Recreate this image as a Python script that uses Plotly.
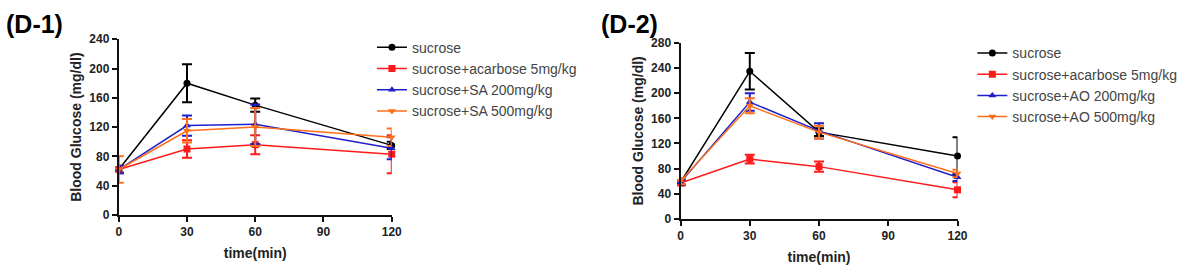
import plotly.graph_objects as go

W, H = 1196, 276

time_min = [0, 30, 60, 120]

series_names_d1 = ["sucrose", "sucrose+acarbose 5mg/kg", "sucrose+SA 200mg/kg", "sucrose+SA 500mg/kg"]
series_names_d2 = ["sucrose", "sucrose+acarbose 5mg/kg", "sucrose+AO 200mg/kg", "sucrose+AO 500mg/kg"]

# D-1 values (mean, error)
d1_sucrose = [62, 180, 150, 95]
d1_sucrose_err = [4, 26, 9, 5]
d1_acarbose = [62, 90, 96, 83]
d1_acarbose_err = [5, 12, 13, 26]
d1_sa200 = [62, 122, 124, 91]
d1_sa200_err = [5, 14, 27, 15]
d1_sa500 = [62, 115, 120, 106]
d1_sa500_err = [18, 16, 26, 12]

# D-2 values (mean, error)
d2_sucrose = [58, 235, 138, 100]
d2_sucrose_err = [4, 29, 6, 30]
d2_acarbose = [57, 95, 83, 46]
d2_acarbose_err = [4, 7, 8, 12]
d2_ao200 = [58, 186, 140, 66]
d2_ao200_err = [4, 14, 12, 6]
d2_ao500 = [60, 180, 138, 72]
d2_ao500_err = [5, 12, 10, 6]

colors = ["#000000", "#ff1a1a", "#1f1fcc", "#ff6f1a"]
symbols = ["circle", "square", "triangle-up", "triangle-down"]

d1_vals = [d1_sucrose, d1_acarbose, d1_sa200, d1_sa500]
d1_errs = [d1_sucrose_err, d1_acarbose_err, d1_sa200_err, d1_sa500_err]
d2_vals = [d2_sucrose, d2_acarbose, d2_ao200, d2_ao500]
d2_errs = [d2_sucrose_err, d2_acarbose_err, d2_ao200_err, d2_ao500_err]

x_ticks = [0, 30, 60, 90, 120]
d1_y_ticks = [0, 40, 80, 120, 160, 200, 240]
d2_y_ticks = [0, 40, 80, 120, 160, 200, 240, 280]

fig = go.Figure()

def add_panel(vals, errs, names, xa, ya, leg):
    for v, e, n, c, s in zip(vals, errs, names, colors, symbols):
        fig.add_trace(go.Scatter(
            x=time_min, y=v, name=n, mode="lines+markers",
            line=dict(color=c, width=1.5),
            marker=dict(color=c, symbol=s, size=7),
            error_y=dict(type="data", array=e, visible=True, color=c, thickness=2, width=5),
            xaxis=xa, yaxis=ya, legend=leg, cliponaxis=False,
        ))

add_panel(d1_vals, d1_errs, series_names_d1, "x", "y", "legend")
add_panel(d2_vals, d2_errs, series_names_d2, "x2", "y2", "legend2")

tickfont = dict(family="Liberation Sans", size=12, color="#222222", weight="bold")
titlefont = dict(family="Liberation Sans", size=14, color="#222222", weight="bold")

def xaxis_cfg(dom):
    return dict(domain=dom, range=[0, 120], tickvals=x_ticks, showline=True, linecolor="#111111",
                linewidth=2, ticks="outside", ticklen=5, tickwidth=1.5, tickcolor="#111111",
                showgrid=False, zeroline=False, tickfont=tickfont,
                title=dict(text="time(min)", font=titlefont, standoff=10))

def yaxis_cfg(dom, rng, tv, anchor):
    return dict(domain=dom, range=rng, tickvals=tv, showline=True, linecolor="#111111",
                linewidth=2, ticks="outside", ticklen=5, tickwidth=1.5, tickcolor="#111111",
                showgrid=False, zeroline=False, tickfont=tickfont, anchor=anchor,
                title=dict(text="Blood Glucose (mg/dl)", font=titlefont, standoff=4))

legfont = dict(family="Liberation Sans", size=14, color="#444444")

fig.update_layout(
    width=W, height=H,
    margin=dict(l=0, r=0, t=0, b=0),
    paper_bgcolor="white", plot_bgcolor="white",
    xaxis=dict(**xaxis_cfg([117 / W, 393 / W]), anchor="y"),
    yaxis=yaxis_cfg([(H - 219) / H, (H - 34) / H], [0, 240], d1_y_ticks, "x"),
    xaxis2=dict(**xaxis_cfg([685 / W, 965 / W]), anchor="y2"),
    yaxis2=yaxis_cfg([(H - 223) / H, (H - 38) / H], [0, 280], d2_y_ticks, "x2"),
    legend=dict(x=373 / W, y=(H - 26) / H, xanchor="left", yanchor="top", font=legfont,
                bgcolor="rgba(0,0,0,0)", tracegroupgap=0),
    legend2=dict(x=980 / W, y=(H - 32) / H, xanchor="left", yanchor="top", font=legfont,
                 bgcolor="rgba(0,0,0,0)", tracegroupgap=0),
    annotations=[
        dict(text="<b>(D-1)</b>", x=0, y=1, xref="paper", yref="paper", xanchor="left", yanchor="top",
             showarrow=False, font=dict(family="Liberation Sans", size=25, color="#000000"), xshift=1, yshift=-1),
        dict(text="<b>(D-2)</b>", x=603 / W, y=1, xref="paper", yref="paper", xanchor="left", yanchor="top",
             showarrow=False, font=dict(family="Liberation Sans", size=25, color="#000000"), yshift=-1),
    ],
    showlegend=True,
)

fig.write_html("out.html")
